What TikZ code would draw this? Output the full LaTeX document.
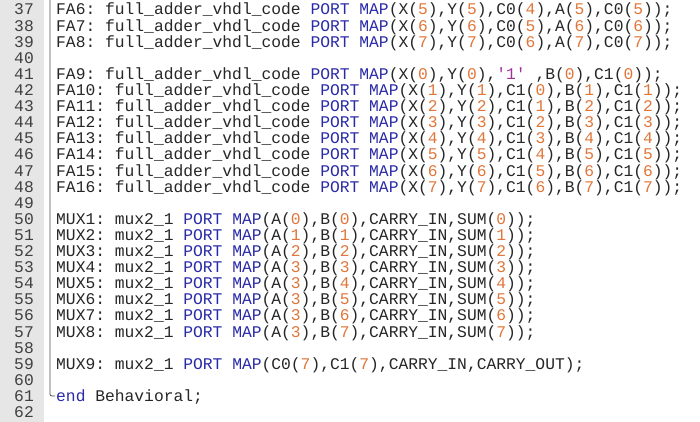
\documentclass[tikz,border=0pt]{standalone}
\usepackage{fontspec}
\setmonofont{Liberation Mono}
\usetikzlibrary{calc}
\definecolor{kwblue}{HTML}{2A2AA8}
\definecolor{numorange}{HTML}{E0763A}
\definecolor{strpurple}{HTML}{A030A0}
\definecolor{guttergray}{HTML}{E6E6E6}
\newcommand{\kw}[1]{\textcolor{kwblue}{#1}}
\newcommand{\nm}[1]{\textcolor{numorange}{#1}}
\newcommand{\portmap}{\kw{PORT MAP}}
\begin{document}
\begin{tikzpicture}[x=1pt, y=1pt,
  code/.style={anchor=base west, inner sep=0, font=\ttfamily\fontsize{16.3}{16}\selectfont, text=black!85},
  lineno/.style={anchor=base east, inner sep=0, font=\ttfamily\fontsize{16.3}{16}\selectfont, text=black!75}]
  \useasboundingbox (0,0) rectangle (700,-422);
  \fill[guttergray] (0,0) rectangle (44,-422);
  % line numbers
  \foreach \k in {37,...,62}
    \node (n\k) [lineno] at (34, {-15-(\k-37)*16.1}) {\k};
  % fold line
  \draw[black!70, thick] (50,0) -- (50,-392) .. controls (50,-396) .. (55,-396);
  % code lines
  \node (l37) [code] at (56, -15) {FA6: full\_adder\_vhdl\_code \portmap(X(\nm{5}),Y(\nm{5}),C0(\nm{4}),A(\nm{5}),C0(\nm{5}));};
  \node (l38) [code] at (56, {-15-16.1}) {FA7: full\_adder\_vhdl\_code \portmap(X(\nm{6}),Y(\nm{6}),C0(\nm{5}),A(\nm{6}),C0(\nm{6}));};
  \node (l39) [code] at (56, {-15-2*16.1}) {FA8: full\_adder\_vhdl\_code \portmap(X(\nm{7}),Y(\nm{7}),C0(\nm{6}),A(\nm{7}),C0(\nm{7}));};
  \node (l41) [code] at (56, {-15-4*16.1}) {FA9: full\_adder\_vhdl\_code \portmap(X(\nm{0}),Y(\nm{0}),\textcolor{strpurple}{'1'} ,B(\nm{0}),C1(\nm{0}));};
  \foreach \i [evaluate=\i as \fa using int(9+\i), evaluate=\i as \pr using int(\i-1)] in {1,...,7}
    \node (l\i) [code] at (56, {-15-(4+\i)*16.1}) {FA\fa: full\_adder\_vhdl\_code \portmap(X(\nm{\i}),Y(\nm{\i}),C1(\nm{\pr}),B(\nm{\i}),C1(\nm{\i}));};
  \foreach \k [evaluate=\k as \b using int(\k-1), evaluate=\k as \a using {int(min(\k-1,3))}] in {1,...,8}
    \node (m\k) [code] at (56, {-15-(12+\k)*16.1}) {MUX\k: mux2\_1 \portmap(A(\nm{\a}),B(\nm{\b}),CARRY\_IN,SUM(\nm{\b}));};
  \node (m9) [code] at (56, {-15-22*16.1}) {MUX9: mux2\_1 \portmap(C0(\nm{7}),C1(\nm{7}),CARRY\_IN,CARRY\_OUT);};
  \node (l61) [code] at (56, {-15-24*16.1}) {\kw{end} Behavioral;};
\end{tikzpicture}
\end{document}
